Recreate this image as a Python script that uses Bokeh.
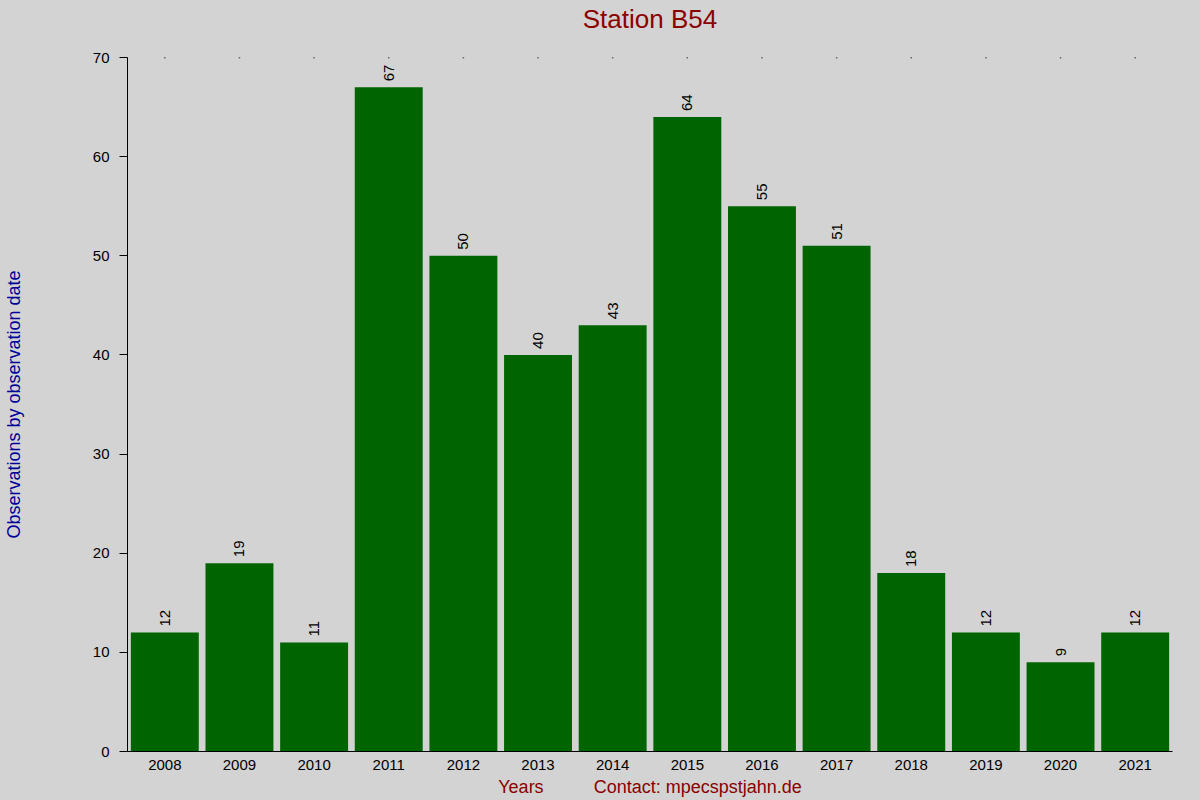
from bokeh.plotting import figure
from bokeh.models import ColumnDataSource, Range1d, FactorRange, LinearAxis, FixedTicker
from bokeh.core.properties import value
from bokeh.embed import file_html
from bokeh.resources import INLINE
import math

years = ["2008", "2009", "2010", "2011", "2012", "2013", "2014",
         "2015", "2016", "2017", "2018", "2019", "2020", "2021"]
counts = [12, 19, 11, 67, 50, 40, 43, 64, 55, 51, 18, 12, 9, 12]
y_ticks = [0, 10, 20, 30, 40, 50, 60, 70]
y_max = 70
title_text = "Station B54"
x_label = "Years" + "\u00a0" * 10 + "Contact: mpecspstjahn.de"
y_label = "Observations by observation date"

BG = "#d3d3d3"
FONT = "Liberation Sans"

src = ColumnDataSource(dict(x=years, top=counts, lbl=[str(c) for c in counts]))

p = figure(width=1200, height=800, x_range=FactorRange(*years, range_padding=0),
           y_range=Range1d(0, y_max), output_backend="svg", toolbar_location=None)
p.min_border_left = 126
p.min_border_right = 28
p.min_border_top = 57
p.min_border_bottom = 49
p.background_fill_color = BG
p.border_fill_color = BG
p.outline_line_color = None
p.xgrid.grid_line_color = None
p.ygrid.grid_line_color = None

p.vbar(x="x", top="top", width=0.91, source=src, fill_color="#006400", line_color=None)
p.text(x="x", y="top", text="lbl", source=src, angle=math.pi / 2,
       text_align="left", text_baseline="middle", y_offset=-6,
       text_font=value(FONT), text_font_size="15px", text_color="black")
# tiny tick dots along the top edge at each year
p.scatter(x=years, y=[y_max] * len(years), marker="square", size=1.5,
          color="black", line_color=None)

xa = p.below[0]
xa.axis_label = x_label
xa.axis_label_text_color = "#8b0000"
xa.axis_label_text_font = FONT
xa.axis_label_text_font_size = "18px"
xa.axis_label_text_font_style = "normal"
xa.axis_label_standoff = 4
xa.major_label_text_font = FONT
xa.major_label_text_font_size = "15px"
xa.major_label_text_color = "black"
xa.major_label_standoff = 2
xa.major_tick_line_color = None
xa.minor_tick_line_color = None
xa.axis_line_color = "black"

ya = p.left[0]
ya.ticker = y_ticks
ya.axis_label = y_label
ya.axis_label_text_color = "#000099"
ya.axis_label_text_font = FONT
ya.axis_label_text_font_size = "18px"
ya.axis_label_text_font_style = "normal"
ya.axis_label_standoff = 66
ya.major_label_text_font = FONT
ya.major_label_text_font_size = "15px"
ya.major_label_text_color = "black"
ya.major_label_standoff = 10
ya.major_tick_out = 8
ya.major_tick_in = 0
ya.minor_tick_line_color = None
ya.axis_line_color = "black"
ya.major_tick_line_color = "black"

# top axis without ticks, carrying the title as its label
top_ax = LinearAxis(ticker=FixedTicker(ticks=[]), axis_line_color=None,
                    major_tick_line_color=None, minor_tick_line_color=None,
                    major_label_standoff=0,
                    axis_label=title_text, axis_label_text_font=FONT,
                    axis_label_text_font_size="26px", axis_label_text_color="#8b0000",
                    axis_label_text_font_style="normal", axis_label_standoff=24)
p.add_layout(top_ax, "above")

html = file_html(p, INLINE)
html = html.replace("</head>", "<style>html,body{background:#d3d3d3;}</style></head>", 1)
open("out.html", "w").write(html)
